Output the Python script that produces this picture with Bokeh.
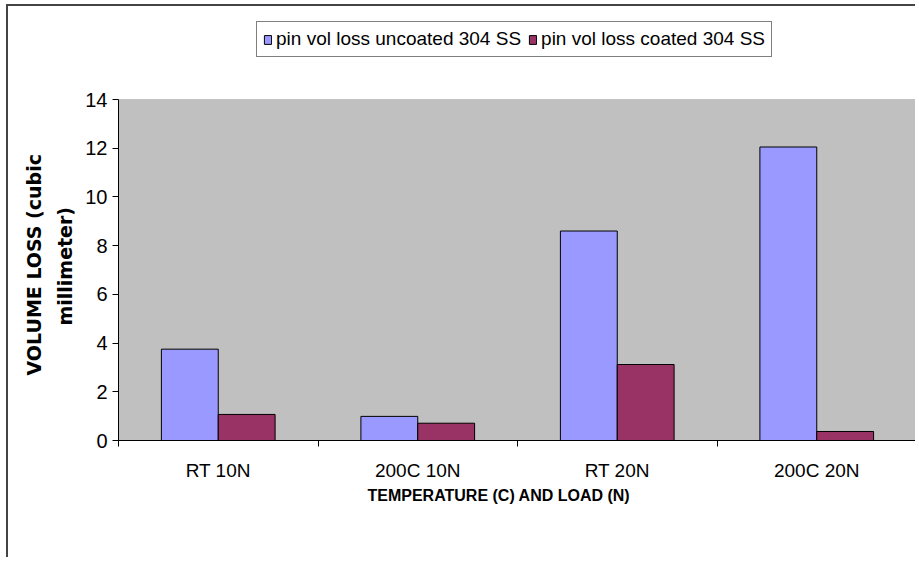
from bokeh.plotting import figure
from bokeh.models import (ColumnDataSource, FixedTicker, Range1d, Legend, LegendItem, Title,
                          BoxAnnotation)
from bokeh.embed import file_html
from bokeh.resources import INLINE

# ---- data ----
categories = ["RT 10N", "200C 10N", "RT 20N", "200C 20N"]
uncoated = [3.75, 0.99, 8.6, 12.05]
coated = [1.07, 0.71, 3.12, 0.37]
series_names = ["pin vol loss uncoated 304 SS", "pin vol loss coated 304 SS"]
y_ticks = [0, 2, 4, 6, 8, 10, 12, 14]
x_title = "TEMPERATURE (C) AND LOAD (N)"
y_title_lines = ["VOLUME LOSS (cubic", "millimeter)"]

FONT = "Liberation Sans"
BOLD_FONT = "DejaVu Sans"

y_min, y_max = y_ticks[0], y_ticks[-1]
# extra head-room above the plot area so the legend can sit inside the frame
y_view_top = y_max * 434 / 341

bar_w = 0.285
centers = [i + 0.5 for i in range(len(categories))]
src_u = ColumnDataSource(dict(x=[c - bar_w / 2 for c in centers], top=uncoated))
src_c = ColumnDataSource(dict(x=[c + bar_w / 2 for c in centers], top=coated))

p = figure(width=909, height=553, output_backend="svg", toolbar_location=None,
           x_range=Range1d(0, len(categories)), y_range=Range1d(y_min, y_view_top),
           min_border_left=110, min_border_right=1, min_border_top=0, min_border_bottom=119)
p.styles = {"border-left": "2px solid #444444", "border-top": "2px solid #444444",
            "margin-left": "6px", "margin-top": "4px"}

p.background_fill_color = "white"
p.border_fill_color = "white"
p.outline_line_color = None
p.grid.visible = False

# gray plot area
p.add_layout(BoxAnnotation(left=0, right=len(categories), bottom=y_min, top=y_max,
                           fill_color="#C0C0C0", fill_alpha=1, line_color="#808080",
                           line_width=1, level="underlay"))

r_u = p.vbar(x="x", top="top", width=bar_w, source=src_u, fill_color="#9999FF",
             line_color="black", line_width=1)
r_c = p.vbar(x="x", top="top", width=bar_w, source=src_c, fill_color="#993366",
             line_color="black", line_width=1)

# x axis
xa = p.xaxis[0]
xa.ticker = FixedTicker(ticks=centers, minor_ticks=list(range(len(categories) + 1)))
xa.major_label_overrides = {c: lab for c, lab in zip(centers, categories)}
xa.major_tick_out = 0
xa.major_tick_in = 0
xa.minor_tick_out = 6
xa.minor_tick_in = 0
xa.minor_tick_line_color = "black"
xa.axis_line_color = "black"
xa.major_label_text_font = FONT
xa.major_label_text_font_size = "19px"
xa.major_label_text_color = "black"
xa.major_label_standoff = 13

# y axis
ya = p.yaxis[0]
ya.ticker = FixedTicker(ticks=y_ticks)
ya.bounds = (y_min, y_max)
ya.major_tick_out = 6
ya.major_tick_in = 0
ya.minor_tick_out = 0
ya.minor_tick_in = 0
ya.axis_line_color = "black"
ya.major_tick_line_color = "black"
ya.major_label_text_font = FONT
ya.major_label_text_font_size = "20px"
ya.major_label_text_color = "black"
ya.major_label_standoff = 5

p.add_layout(Title(text=y_title_lines[1], align="left", offset=115, text_font=BOLD_FONT,
                   text_font_style="bold", text_font_size="19px", text_color="black",
                   standoff=14), "left")
p.add_layout(Title(text=y_title_lines[0], align="left", offset=65, text_font=BOLD_FONT,
                   text_font_style="bold", text_font_size="19px", text_color="black",
                   standoff=0), "left")

p.add_layout(Title(text=x_title, align="left", offset=249, text_font="Liberation Sans",
                   text_font_style="bold", text_font_size="16px", text_color="black",
                   standoff=3), "below")

legend = Legend(items=[LegendItem(label=series_names[0], renderers=[r_u]),
                       LegendItem(label=series_names[1], renderers=[r_c])],
                orientation="horizontal", location=(138, 383))
legend.border_line_color = "black"
legend.border_line_width = 1
legend.background_fill_color = "white"
legend.background_fill_alpha = 1
legend.label_text_font = FONT
legend.label_text_font_size = "19px"
legend.label_text_color = "black"
legend.glyph_width = 9
legend.glyph_height = 11
legend.label_standoff = 4
legend.spacing = 7
legend.padding = 6
legend.margin = 0
legend.label_height = 20
p.add_layout(legend, "center")

open("out.html", "w").write(file_html(p, INLINE))
